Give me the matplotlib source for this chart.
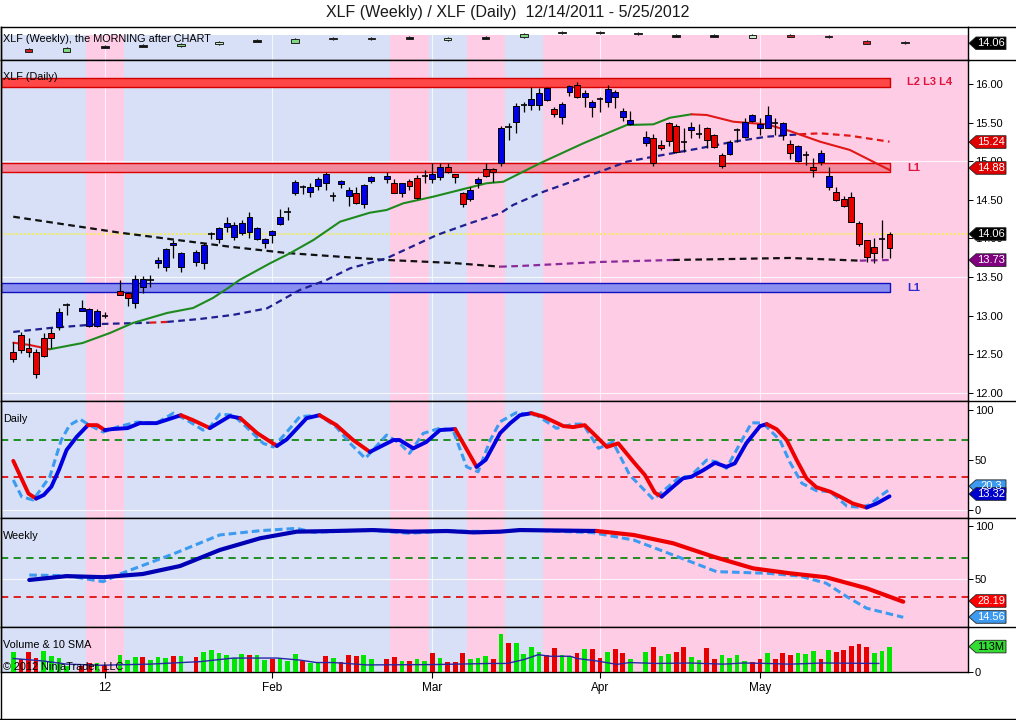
import numpy as np
import matplotlib
matplotlib.use("Agg")
import matplotlib.pyplot as plt
from matplotlib.patches import Polygon
from matplotlib.lines import Line2D

W, H = 1016, 720
plt.rcParams['font.family'] = ['Liberation Sans', 'DejaVu Sans']

N = None
def with_holidays(*segments):
    out = []
    for k, seg in enumerate(segments):
        if k:
            out.append(N)
        out.extend(seg)
    return out

# ---------------- data ----------------
# slot = weekday index from 12/14/2011 ; '.' / None = exchange holiday
candle_color = ("rrrrrrbk" + "." + "bbbk" + "." + "rrbbkbbbb" + "." +
                "bbkbbbbbbbbbkbkbbbkbbrbb" + "." +
                "brbrrkbbrrrbbrrbkbkbbbrbbrbbkbbbb" + "." +
                "brrrrkbkrrrbkbbbbkbrbkrbbrrrrrrkr")

body_top = with_holidays(
    [12.535, 12.751, 12.586, 12.535, 12.712, 12.773, 13.045, 13.139],
    [13.104, 13.083, 13.061, 13.000],
    [13.324, 13.294, 13.472, 13.480, 13.463, 13.722, 13.860, 13.946, 13.808],
    [13.821, 13.916, 14.058, 14.132, 14.197, 14.175, 14.197, 14.282, 14.132, 13.990, 14.097, 14.274,
     14.347, 14.735, 14.671, 14.663, 14.766, 14.831, 14.550, 14.744, 14.628, 14.593, 14.693, 14.792],
    [14.809, 14.715, 14.715, 14.748, 14.779, 14.813, 14.835, 14.922, 14.922, 14.831, 14.585, 14.628,
     14.770, 14.896, 14.896, 15.427, 15.447, 15.715, 15.728, 15.802, 15.880, 15.944, 15.672, 15.737,
     15.974, 15.987, 15.880, 15.763, 15.806, 15.931, 15.893, 15.650, 15.534],
    [15.318, 15.297, 15.210, 15.491, 15.460, 15.253, 15.447, 15.349, 15.434, 15.340, 15.081, 15.253,
     15.405, 15.512, 15.599, 15.478, 15.599, 15.491, 15.491, 15.223, 15.197, 15.081, 14.929, 15.103,
     14.809, 14.606, 14.511, 14.533, 14.197, 13.981, 13.894, 13.993, 14.054])

body_bot = with_holidays(
    [12.436, 12.557, 12.527, 12.242, 12.483, 12.708, 12.858, 13.139],
    [13.061, 12.867, 12.871, 13.000],
    [13.269, 13.230, 13.169, 13.376, 13.463, 13.683, 13.635, 13.916, 13.635],
    [13.700, 13.679, 14.058, 13.990, 14.153, 14.023, 14.075, 14.088, 13.990, 13.938, 14.045, 14.188,
     14.347, 14.585, 14.671, 14.606, 14.680, 14.715, 14.550, 14.702, 14.554, 14.463, 14.443, 14.744],
    [14.766, 14.585, 14.585, 14.680, 14.528, 14.813, 14.766, 14.800, 14.865, 14.800, 14.447, 14.507,
     14.722, 14.809, 14.857, 14.973, 15.447, 15.512, 15.728, 15.728, 15.728, 15.793, 15.608, 15.577,
     15.893, 15.836, 15.836, 15.706, 15.806, 15.763, 15.836, 15.577, 15.482],
    [15.232, 14.973, 15.168, 15.262, 15.124, 15.253, 15.405, 15.349, 15.275, 15.188, 14.942, 15.090,
     15.405, 15.318, 15.521, 15.434, 15.434, 15.491, 15.340, 15.103, 15.003, 15.081, 14.887, 14.986,
     14.671, 14.498, 14.424, 14.217, 13.925, 13.764, 13.808, 13.993, 13.881])

high = with_holidays(
    [12.664, 12.794, 12.708, 12.570, 12.773, 12.837, 13.097, 13.169],
    [13.204, 13.100, 13.087, 13.052],
    [13.463, 13.307, 13.528, 13.515, 13.528, 13.757, 13.881, 13.981, 13.825],
    [13.851, 13.942, 14.088, 14.153, 14.282, 14.218, 14.239, 14.339, 14.153, 14.003, 14.110, 14.378,
     14.412, 14.757, 14.690, 14.715, 14.800, 14.861, 14.606, 14.757, 14.671, 14.671, 14.706, 14.809],
    [14.865, 14.766, 14.720, 14.766, 14.822, 14.887, 14.973, 14.973, 14.973, 14.835, 14.606, 14.663,
     14.800, 14.973, 14.913, 15.456, 15.491, 15.750, 15.771, 15.965, 15.944, 15.965, 15.706, 15.771,
     15.987, 16.030, 15.922, 15.793, 15.836, 15.987, 15.922, 15.693, 15.650],
    [15.392, 15.349, 15.275, 15.512, 15.478, 15.427, 15.504, 15.478, 15.447, 15.349, 15.103, 15.275,
     15.427, 15.564, 15.608, 15.556, 15.715, 15.556, 15.512, 15.275, 15.210, 15.133, 15.038, 15.146,
     14.929, 14.671, 14.554, 14.606, 14.227, 13.981, 14.003, 14.240, 14.088])

low = with_holidays(
    [12.400, 12.518, 12.470, 12.190, 12.466, 12.578, 12.816, 13.010],
    [13.055, 12.854, 12.854, 12.975],
    [13.262, 13.126, 13.104, 13.294, 13.368, 13.618, 13.583, 13.744, 13.570],
    [13.644, 13.610, 13.990, 13.946, 14.088, 13.981, 14.045, 14.000, 13.981, 13.873, 13.946, 14.175,
     14.240, 14.563, 14.572, 14.541, 14.628, 14.628, 14.489, 14.650, 14.421, 14.447, 14.391, 14.715],
    [14.715, 14.585, 14.533, 14.628, 14.508, 14.715, 14.715, 14.757, 14.844, 14.722, 14.404, 14.489,
     14.650, 14.800, 14.735, 14.939, 15.275, 15.370, 15.641, 15.663, 15.663, 15.780, 15.577, 15.478,
     15.849, 15.815, 15.706, 15.577, 15.641, 15.706, 15.693, 15.521, 15.469],
    [15.201, 14.942, 15.146, 15.201, 15.103, 15.116, 15.305, 15.297, 15.175, 15.175, 14.917, 15.081,
     15.253, 15.297, 15.512, 15.340, 15.427, 15.340, 15.275, 15.029, 14.994, 14.951, 14.800, 14.951,
     14.628, 14.485, 14.412, 14.210, 13.907, 13.700, 13.679, 13.751, 13.744])

volume_m = with_holidays(
    [90, 60, 90, 64, 94, 72, 62, 25],
    [27, 39, 39, 31],
    [77, 54, 67, 67, 54, 67, 63, 73, 73],
    [67, 90, 99, 85, 77, 62, 82, 77, 77, 54, 60, 63, 50, 82, 50, 42, 42, 72, 63, 45, 77, 73, 77, 58],
    [60, 67, 50, 50, 60, 50, 85, 63, 45, 45, 85, 60, 63, 73, 57, 170, 130, 130, 80, 112, 89, 75, 107,
     77, 70, 85, 102, 102, 63, 89, 102, 85, 57],
    [89, 112, 70, 80, 89, 112, 66, 53, 107, 57, 75, 62, 75, 48, 44, 57, 85, 57, 85, 77, 85, 80, 93,
     57, 98, 89, 98, 116, 125, 111, 84, 93, 113])
volume_color = ("grrrgggg" + "." + "rrgr" + "." + "gggrgggrg" + "." +
                "rggggggrggrgggrggrgrrrgg" + "." +
                "rrgrggrgrrrgggrgrggggrrggrgrrgrrg" + "." +
                "grggrrggrrggggrrgrrrgggrgrrrrrggg")

# volume 10 SMA (slot, M)
vsma_x = [0, 3.9, 7, 11.4, 14, 17.9, 24.5, 26.7, 28.9, 34.6, 37.6, 39.8, 42, 46.4, 55.1, 62.6, 64.8,
          67, 68.9, 70.4, 73.1, 74, 76.6, 79.2, 80.9, 84.4, 88.8, 93.2, 95.8, 98.9, 101.9, 106.3, 113.6]
vsma_y = [60, 49, 35, 30, 32, 35, 46, 54, 62, 62, 53, 42, 42, 31.5, 33, 38, 38, 55, 77, 70, 70, 60,
          49, 34, 42, 38, 40, 35, 40, 38, 35, 40, 38]

# moving averages on price
ma1_x = [0, 2.2, 4.8, 9.1, 12.7, 15.7, 20.2, 23.6, 26.2, 28.4, 29.7, 33.7, 36.3, 39.4, 42.9, 46.8,
         49.0, 51.2, 55.1, 58.6, 62.1, 64.3, 66.5, 69.1, 74.8, 80.5, 84.0, 86.2, 89.0, 91.0, 94.5,
         98.9, 101.9, 105.9, 109.8, 115.0]
ma1_y = [12.651, 12.620, 12.566, 12.647, 12.777, 12.906, 13.036, 13.100, 13.230, 13.372, 13.463,
         13.679, 13.808, 13.981, 14.218, 14.334, 14.369, 14.456, 14.541, 14.628, 14.715, 14.735,
         14.844, 14.973, 15.232, 15.469, 15.478, 15.564, 15.608, 15.599, 15.512, 15.478, 15.392,
         15.253, 15.146, 14.887]
ma1_red = [(0, 4.8), (89, 116)]

ma2_x = [0, 4.8, 11.4, 16.6, 17.9, 20.2, 24.5, 28.8, 33.3, 37.6, 41.1, 44.2, 49.0, 55.6, 59.9, 63.9,
         65.6, 69.6, 77.0, 80.5, 84.0, 90.1, 94.5, 98.9, 103.2, 105.9, 109.8, 115.0]
ma2_y = [12.790, 12.841, 12.893, 12.906, 12.910, 12.920, 12.958, 13.010, 13.096, 13.333, 13.463,
         13.614, 13.744, 14.045, 14.197, 14.326, 14.434, 14.606, 14.865, 14.994, 15.059, 15.168,
         15.253, 15.318, 15.349, 15.362, 15.331, 15.253]
ma2_red = [(17.9, 20.2), (104.5, 116)]

ma3_x = [0, 14, 28.4, 35.9, 49.0, 57.7, 63.9, 66.5, 77.0, 86.6, 94.5, 101.9, 111.1, 115.0]
ma3_y = [14.282, 14.075, 13.894, 13.812, 13.722, 13.683, 13.635, 13.644, 13.696, 13.722, 13.735,
         13.748, 13.713, 13.722]
ma3_purple = [(63, 86.6), (111.1, 116)]

# horizontal zones (low, high)
zone_l234 = (15.965, 16.074)
zone_l1_red = (14.865, 14.973)
zone_l1_blue = (13.311, 13.420)
last_price = 14.06

# Daily stochastic
dk_x = [0, 2, 3, 4, 5, 6, 7, 8.3, 9.8, 11, 12, 13, 15, 16.6, 18.8, 22, 23.6, 25.8, 28.4, 29.8, 32,
        34.6, 35.9, 38.5, 40.2, 42.4, 44.6, 46.8, 49.9, 50.7, 52.5, 54.2, 56, 58, 60.8, 62, 63.9,
        65.2, 66.5, 68, 69.6, 72.2, 73.5, 75, 76.6, 77.9, 79.4, 81.4, 82.9, 84.2, 85.1, 86.6, 87.9,
        89, 90.6, 92.1, 93.6, 94.7, 96.2, 98, 98.9, 100.2, 101.5, 102.8, 104.1, 105.4, 107.2, 108.5,
        110.2, 112, 113.3, 115]
dk_y = [49, 16, 11, 14.6, 23, 40, 60, 73, 85, 85, 80, 81, 82, 87, 87, 95, 90, 82, 94, 92, 77, 64,
        70.7, 92, 95, 85, 70, 58, 70, 70, 61.6, 68, 80, 81, 43, 50, 77, 86.8, 95, 97, 93.5, 84, 83,
        85, 73, 63, 66.6, 48, 34.7, 17, 13, 23, 31.4, 33, 39.8, 47, 43, 46.5, 66.7, 84, 86, 80.8,
        70, 50, 31.4, 22.4, 18, 13, 6, 2, 6, 13.3]
dk_red = [(0, 3), (9.8, 12), (22, 25.8), (29.8, 34.6), (40.2, 46.8), (58, 60.8), (68, 85.1), (98.9, 112)]
dd_x = [0, 1.1, 2.6, 4.8, 6.3, 7.4, 8.75, 10, 11.8, 13.6, 16.2, 18.8, 21, 22.8, 24.9, 25.8, 27.1,
        28.9, 30.6, 32.8, 34.1, 35.9, 37.6, 40.2, 42.4, 44.2, 46.2, 49, 50.7, 52, 53.8, 56, 57.7,
        59.5, 61, 62.6, 63.9, 66, 68.7, 71.3, 73.5, 74.8, 76.8, 78.7, 80.9, 84, 85.7, 87.5, 88.8,
        91, 92.3, 93.6, 95.4, 96.9, 98.4, 100.6, 101.9, 103.5, 105.4, 107.2, 109.4, 111.1, 112.4,
        113.7, 115]
dd_y = [29.7, 12.9, 9.6, 33, 70, 85, 91, 85, 78, 83, 88, 87, 97, 90, 80, 83, 96, 95, 83, 66.7, 63,
        78, 93.5, 95, 83, 66.7, 51.5, 75, 66.7, 56.6, 76.7, 81.8, 80, 43, 38, 70, 88.4, 97.5, 95,
        81.8, 86, 86, 61.6, 68, 34.7, 10.3, 21.3, 33, 33, 49.8, 48, 41.5, 66.7, 87.4, 87, 70, 48,
        26.4, 19, 18, 3.5, 2.2, 4.7, 13, 20.3]

# Weekly stochastic
ws_x = [2.1, 7, 11.8, 17, 21.9, 27.1, 32.4, 37.2, 42, 47.2, 52, 56.9, 60.4, 63.9, 66.5, 76.6, 81.4,
        86.6, 91.9, 97.1, 101.9, 106.7, 112, 116.8]
ws_y = [49.4, 53, 52, 55, 62.5, 77.5, 88.5, 94.7, 95.3, 96.2, 94.7, 95.3, 94, 94.7, 96.2, 95.3, 91.6,
        83.8, 71.2, 60.3, 55.7, 51.9, 41.6, 29]
ws_red = [(76.6, 120)]
wd_x = [2.1, 7, 11.8, 14, 21, 27.1, 32.4, 37.2, 39.4, 46.4, 52, 56.9, 63.9, 66.5, 76.1, 81.4, 86.6,
        92.3, 98.9, 103.2, 106.7, 109.4, 112, 116.8]
wd_y = [54, 53.4, 47.8, 55, 73.8, 91.6, 95.6, 97.8, 94, 96.2, 93.2, 95.3, 94.7, 96.5, 93.7, 86.9,
        72.8, 57.2, 55.7, 53.1, 46.3, 33.7, 22.9, 14.4]
stoch_upper, stoch_lower = 70, 33

# Weekly mini candles (one per week, centre slot 2 + 5k)
wk_top = [12.65, 12.86, 12.99, 13.20, 13.78, 14.27, 14.27, 14.78, 14.78, 14.78, 14.90, 14.99,
          14.90, 15.84, 16.05, 16.05, 15.90, 15.33, 15.33, 15.63, 15.69, 15.20, 14.48, 13.99]
wk_bot = [12.14, 12.14, 12.99, 13.20, 13.35, 13.78, 14.27, 14.05, 14.78, 14.78, 14.90, 14.56,
          14.90, 15.27, 16.05, 16.05, 15.90, 15.33, 15.33, 15.12, 15.33, 15.20, 13.84, 13.99]
wk_col = ['r', 'g', 'k', 'k', 'g', 'l', 'k', 'g', 'k', 'k', 'k', 'l',
          'k', 'g', 'k', 'k', 'k', 'k', 'k', 'l', 'r', 'k', 'r', 'k']
week_shade = "BB" + "P" + "BBBBBBB" + "P" + "B" + "P" + "B" + "PPPPPPPPPP"

month_slots = [12, 34, 55, 77, 98]
month_labels = ["12", "Feb", "Mar", "Apr", "May"]

assert len(candle_color) == 116 and len(body_top) == 116 and len(volume_m) == 116
assert len(volume_color) == 116 and len(low) == 116 and len(high) == 116 and len(body_bot) == 116

# ---------------- figure ----------------
fig = plt.figure(figsize=(W / 100, H / 100), dpi=100)
fig.patch.set_facecolor('white')
XMIN, XMAX = -1.61, 125.3
BLUE_BG, PINK_BG = '#D7E0F6', '#FFCCE6'


def add_ax(top, bottom):
    return fig.add_axes([1 / W, 1 - bottom / H, 967 / W, (bottom - top) / H])


ax_s = add_ax(27, 60)
ax_m = add_ax(60, 401)
ax_d = add_ax(401, 518)
ax_w = add_ax(518, 627)
ax_v = add_ax(627, 672)
axes = [ax_s, ax_m, ax_d, ax_w, ax_v]


def shade(ax, ymax=1.0):
    nweeks = len(week_shade)
    for k, f in enumerate(week_shade):
        a = 5 * k - 0.5 if k else XMIN
        b = 5 * k + 4.5 if k < nweeks - 1 else XMAX
        ax.axvspan(a, b, ymin=0, ymax=ymax, color=PINK_BG if f == 'P' else BLUE_BG, lw=0, zorder=0)


for ax in axes:
    ax.set_xlim(XMIN, XMAX)
    ax.set_facecolor('white')
    for sp in ax.spines.values():
        sp.set_color('black')
        sp.set_linewidth(1.0)
    ax.tick_params(axis='x', bottom=False, labelbottom=False)
    ax.yaxis.tick_right()
    ax.tick_params(axis='y', direction='out', length=3.6, width=0.7, pad=1.5, labelsize=8,
                   colors='black')
    if ax is not ax_s:
        shade(ax)
        for s in month_slots:
            ax.axvline(s, color='white', lw=0.8, alpha=0.75, zorder=0.5)


def colored_line(ax, xs, ys, ranges, c_in, c_out, **kw):
    cols = []
    for i in range(len(xs) - 1):
        m = 0.5 * (xs[i] + xs[i + 1])
        cols.append(c_in if any(a <= m <= b for a, b in ranges) else c_out)
    start = 0
    for i in range(1, len(cols) + 1):
        if i == len(cols) or cols[i] != cols[start]:
            ax.plot(xs[start:i + 1], ys[start:i + 1], color=cols[start], **kw)
            start = i


# ---- top strip (weekly) ----
S_LO, S_HI = 10.372, 17.394
ax_s.set_ylim(S_LO, S_HI)
ax_s.set_yticks([])
shade(ax_s, ymax=(15.69 - S_LO) / (S_HI - S_LO))
for s in month_slots:
    ax_s.axvline(s, ymax=(15.69 - S_LO) / (S_HI - S_LO), color='white', lw=0.8, alpha=0.75, zorder=0.5)
wk_fc = {'r': '#CC1F1F', 'g': '#7FD77F', 'l': '#C8EEC8', 'k': '#111111'}
for k in range(len(wk_top)):
    x = 2 + 5 * k
    h = max(wk_top[k] - wk_bot[k], 0.3)
    ax_s.vlines(x, wk_bot[k] - 0.12, wk_bot[k] + h + 0.2, color='black', lw=0.8, zorder=4)
    ax_s.bar(x, h, width=1.0, bottom=wk_bot[k], color=wk_fc[wk_col[k]], edgecolor='#222222',
             linewidth=0.7, zorder=5)

# ---- main price panel ----
ax_m.set_ylim(11.896, 16.311)
ticks = np.arange(12.0, 16.01, 0.5)
ax_m.set_yticks(ticks)
ax_m.set_yticklabels([f"{t:.2f}" for t in ticks])
for g in (12.0, 13.5, 15.0):
    ax_m.axhline(g, color='white', lw=0.8, alpha=0.8, zorder=0.5)

ax_m.fill_between([XMIN, 115], zone_l234[0], zone_l234[1], color='#FF4747', ec='#D00000', lw=1.0, zorder=2)
ax_m.fill_between([XMIN, 115], zone_l1_red[0], zone_l1_red[1], color='#F08A9C', ec='#E00000', lw=1.0, zorder=2)
ax_m.fill_between([XMIN, 115], zone_l1_blue[0], zone_l1_blue[1], color='#8A8FF0', ec='#1010C0', lw=1.0, zorder=2)
ax_m.text(117.3, 16.02, "L2 L3 L4", color='#E0143C', fontsize=8, fontweight='bold', va='center')
ax_m.text(117.3, 14.913, "L1", color='#E0143C', fontsize=8, fontweight='bold', va='center')
ax_m.text(117.3, 13.36, "L1", color='#2B2BD0', fontsize=8, fontweight='bold', va='center')
ax_m.axhline(last_price, color='#F2EE55', lw=1.4, ls=(0, (1, 1)), zorder=2.5)

colored_line(ax_m, ma3_x, ma3_y, ma3_purple, '#8B2A9B', '#111111', lw=1.6, ls=(0, (3, 2)), zorder=3)
colored_line(ax_m, ma2_x, ma2_y, ma2_red, '#E01818', '#1F1F8F', lw=1.6, ls=(0, (3, 2)), zorder=3)
colored_line(ax_m, ma1_x, ma1_y, ma1_red, '#E01818', '#1E8A1E', lw=1.5, zorder=3,
             solid_capstyle='round')

cfc = {'b': '#0000E6', 'r': '#E60000'}
for i, col in enumerate(candle_color):
    if col == '.':
        continue
    ax_m.vlines(i, low[i], high[i], color='black', lw=0.9, zorder=5)
    if col == 'k':
        ax_m.hlines(body_top[i], i - 0.42, i + 0.42, color='black', lw=1.2, zorder=6)
    else:
        h = max(body_top[i] - body_bot[i], 0.03)
        ax_m.bar(i, h, width=0.78, bottom=body_bot[i], color=cfc[col], edgecolor='black',
                 linewidth=0.7, zorder=6)

# ---- daily stochastic ----
ax_d.set_ylim(-8.56, 109.3)
ax_d.set_yticks([0, 50, 100])
ax_d.axhline(0, color='white', lw=0.8, alpha=0.8, zorder=0.5)
ax_d.axhline(stoch_upper, color='#118811', lw=1.3, ls=(0, (4, 3)), zorder=1)
ax_d.axhline(stoch_lower, color='#E01010', lw=1.3, ls=(0, (4, 3)), zorder=1)
ax_d.plot(dd_x, dd_y, color='#3C9BF0', lw=2.2, ls=(0, (2.5, 1.3)), zorder=3)
colored_line(ax_d, dk_x, dk_y, dk_red, '#EE0000', '#0000E0', lw=2.8, zorder=4,
             solid_capstyle='round', solid_joinstyle='round')

# ---- weekly stochastic ----
ax_w.set_ylim(5.3, 107.5)
ax_w.set_yticks([50, 100])
ax_w.axhline(50, color='white', lw=0.8, alpha=0.8, zorder=0.5)
ax_w.axhline(stoch_upper, color='#118811', lw=1.3, ls=(0, (4, 3)), zorder=1)
ax_w.axhline(stoch_lower, color='#E01010', lw=1.3, ls=(0, (4, 3)), zorder=1)
ax_w.plot(wd_x, wd_y, color='#3C9BF0', lw=2.2, ls=(0, (2.5, 1.3)), zorder=3)
colored_line(ax_w, ws_x, ws_y, ws_red, '#EE0000', '#0000B4', lw=3.0, zorder=4,
             solid_capstyle='round', solid_joinstyle='round')

# ---- volume ----
ax_v.set_ylim(0, 200)
ax_v.set_yticks([0])
ax_v.set_yticklabels(["0"])
vfc = {'g': '#00E600', 'r': '#E60000'}
vx = [i for i, c in enumerate(volume_color) if c != '.']
ax_v.bar(vx, [volume_m[i] for i in vx], width=0.62,
         color=[vfc[volume_color[i]] for i in vx], lw=0, zorder=3)
ax_v.plot(vsma_x, vsma_y, color='#2626A6', lw=1.0, zorder=4)
ax_v.set_xticks(month_slots)
ax_v.set_xticklabels(month_labels)
ax_v.tick_params(axis='x', bottom=True, labelbottom=True, direction='out', length=4.3, width=0.8,
                 pad=3, labelsize=8.5, colors='black')


# ---------------- value tags on the right axis ----------------
def tag(ax, val, text, fc, tc='white'):
    yd = ax.transData.transform((0, val))[1]
    yp = yd / fig.bbox.height * H
    pts = [(969, yp), (976, yp + 6.3), (1006, yp + 6.3), (1006, yp - 6.3), (976, yp - 6.3)]
    fig.add_artist(Polygon([(x / W, y / H) for x, y in pts], closed=True, transform=fig.transFigure,
                           fc=fc, ec='#222222', lw=0.6, zorder=10))
    fig.text(991 / W, yp / H, text, color=tc, fontsize=8, ha='center', va='center', zorder=11)


tag(ax_s, 13.93, "14.06", '#000000')
tag(ax_m, 15.249, "15.24", '#E00000')
tag(ax_m, 14.913, "14.88", '#E00000')
tag(ax_m, 14.058, "14.06", '#000000')
tag(ax_m, 13.72, "13.73", '#800080')
tag(ax_d, 23.5, "20.3", '#3C9BF0')
tag(ax_d, 15.6, "13.32", '#0000CC')
tag(ax_w, 29.7, "28.19", '#FF0000')
tag(ax_w, 14.7, "14.56", '#3C9BF0')
tag(ax_v, 113, "113M", '#33DD33', tc='black')

# ---------------- frame lines and texts ----------------
def fline(x0, y0, x1, y1, lw=1.0):
    fig.add_artist(Line2D([x0 / W, x1 / W], [1 - y0 / H, 1 - y1 / H], transform=fig.transFigure,
                          color='black', lw=lw, zorder=12))


for y in (27, 60, 401, 518, 627):
    fline(968, y, 1016, y)
fline(0.5, 27, 0.5, 719.5)
fline(0, 719.3, 1016, 719.3)

fig.text(508 / W, 1 - 13 / H, "XLF (Weekly) / XLF (Daily)  12/14/2011 - 5/25/2012",
         ha='center', va='center', fontsize=11.5, color='#1a1a1a')
small = dict(fontsize=7.8, ha='left', va='center', color='black', zorder=13)
fig.text(3 / W, 1 - 39 / H, "XLF (Weekly), the MORNING after CHART", **small)
fig.text(3 / W, 1 - 77 / H, "XLF (Daily)", **small)
fig.text(3 / W, 1 - 419 / H, "Daily", **small)
fig.text(3 / W, 1 - 536 / H, "Weekly", **small)
fig.text(3 / W, 1 - 645 / H, "Volume & 10 SMA", **small)
fig.text(3 / W, 1 - 667 / H, "\u00a9 2012 NinjaTrader, LLC", **small)

fig.savefig("out.png", dpi=100, facecolor='white')
